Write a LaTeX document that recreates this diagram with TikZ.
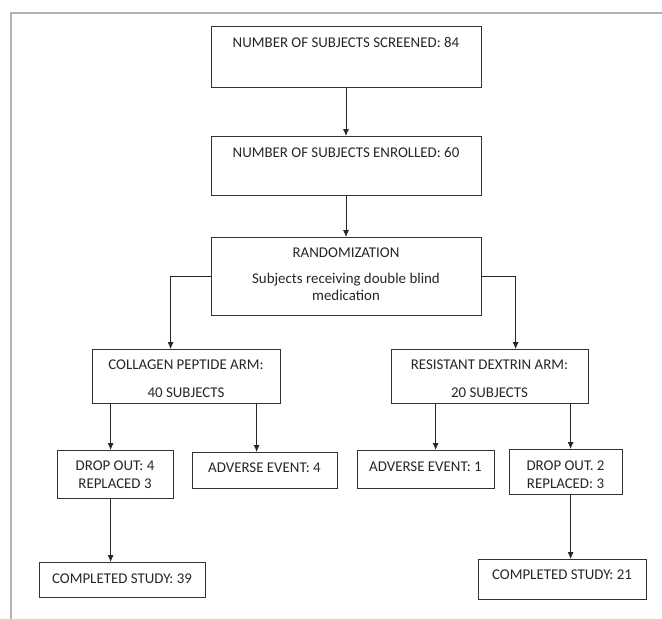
\documentclass[tikz,border=0pt]{standalone}
\usepackage{fontspec}
\setmainfont{Carlito}
\usepackage{tikz}
\usetikzlibrary{positioning,arrows.meta}

\tikzset{
  box/.style={draw=black!80, line width=0.8pt, inner xsep=0pt, inner ysep=0pt,
    align=center, anchor=north, text=black!85,
    font=\fontsize{14.9pt}{17.5pt}\selectfont},
  arr/.style={draw=black!85, line width=0.8pt, -{Latex[length=7pt,width=6pt]}}
}

\begin{document}
\begin{tikzpicture}
            [
                x=1pt, y=-1pt
            ]
            \useasboundingbox (0,0) rectangle (662,619);

            % frame
            \draw[black!30, line width=1.2pt] (11,619) -- (11,13) -- (662,13);

            \node[box, minimum width=270, text height=20.7pt, text depth=40.3pt]
                (screen) at (346,26) {NUMBER OF SUBJECTS SCREENED: 84};
            \node[box, minimum width=270, text height=20.7pt, text depth=38.3pt]
                (enrol) at (346,136) {NUMBER OF SUBJECTS ENROLLED: 60};
            \node[box, minimum width=270, text height=63.5pt, text depth=14.5pt]
                (random) at (346,237) {RANDOMIZATION\\[8.3pt]
                Subjects receiving double blind\\ medication};

            \node[box, minimum width=188, text height=47.7pt, text depth=6.3pt]
                (collagen) at (186,349) {COLLAGEN PEPTIDE ARM:\\[10.5pt] 40 SUBJECTS};
            \node[box, minimum width=197, text height=47.7pt, text depth=6.3pt]
                (dextrin) at (489.5,349) {RESISTANT DEXTRIN ARM:\\[10.5pt] 20 SUBJECTS};

            \node[box, minimum width=116, text height=37.7pt, text depth=10.3pt]
                (drop4) at (115,450) {DROP OUT: 4\\ REPLACED 3};
            \node[box, minimum width=145, text height=19.7pt, text depth=16.3pt]
                (adv4) at (264.5,452) {ADVERSE EVENT: 4};
            \node[box, minimum width=137, text height=20.7pt, text depth=17.3pt]
                (adv1) at (425.5,450) {ADVERSE EVENT: 1};
            \node[box, minimum width=113, text height=38.7pt, text depth=6.3pt]
                (drop2) at (565.5,449) {DROP OUT. 2\\ REPLACED: 3};

            \node[box, minimum width=166, text height=20.7pt, text depth=14.3pt]
                (done39) at (122,562) {COMPLETED STUDY: 39};
            \node[box, minimum width=168, text height=19.7pt, text depth=20.3pt]
                (done21) at (562,559) {COMPLETED STUDY: 21};

            % connectors
            \draw[arr] (screen) -- (enrol);
            \draw[arr] (enrol) -- (random);
            \draw[arr] (random.west) -| ([xshift=79pt]collagen.north west);
            \draw[arr] (random.east) -| ([xshift=125pt]dextrin.north west);
            \draw[arr] ([xshift=19pt]collagen.south west) -- ([xshift=54pt]drop4.north west);
            \draw[arr] ([xshift=165pt]collagen.south west) -- ([xshift=65pt]adv4.north west);
            \draw[arr] ([xshift=45pt]dextrin.south west) -- ([xshift=79pt]adv1.north west);
            \draw[arr] ([xshift=180pt]dextrin.south west) -- ([xshift=62pt]drop2.north west);
            \draw[arr] ([xshift=54pt]drop4.south west) -- ([xshift=72pt]done39.north west);
            \draw[arr] ([xshift=62pt]drop2.south west) -- ([xshift=93pt]done21.north west);
\end{tikzpicture}
\end{document}
